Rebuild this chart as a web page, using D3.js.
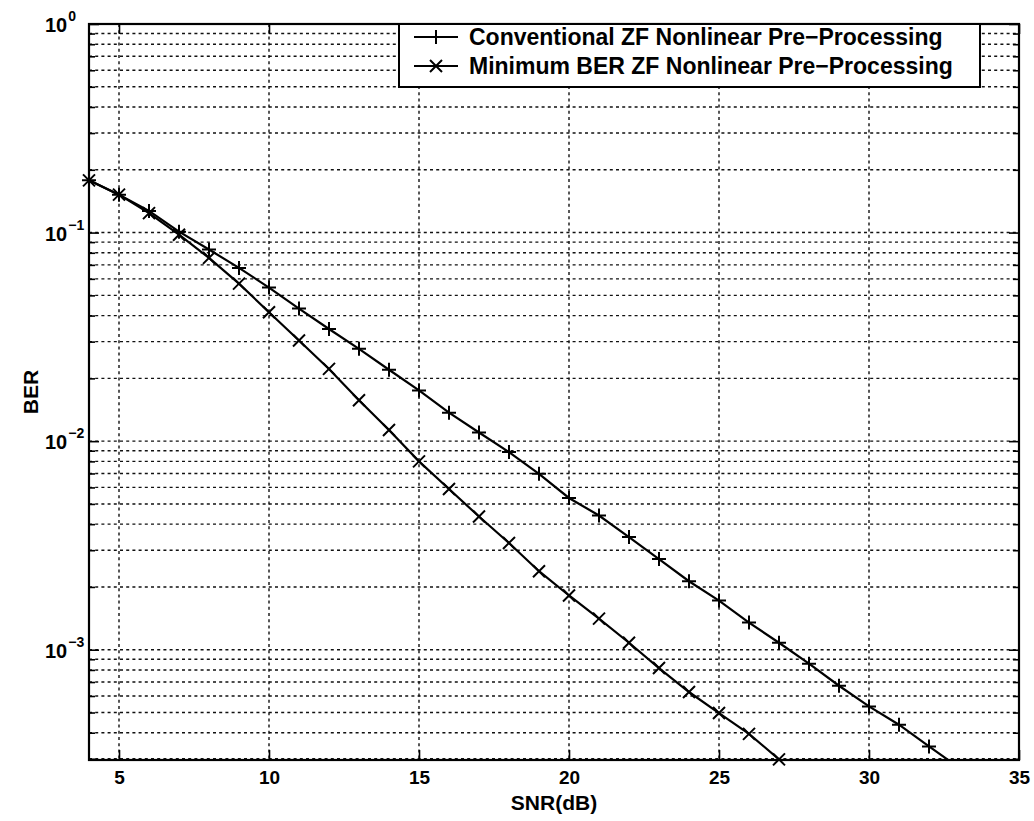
<!DOCTYPE html>
<html>
<head>
<meta charset="utf-8">
<script src="https://cdn.jsdelivr.net/npm/d3@7"></script>
<style>
  html, body { margin: 0; padding: 0; background: #fff; }
  svg { display: block; }
  text { font-family: "Liberation Sans", Arial, Helvetica, sans-serif; font-weight: bold; fill: #000; }
</style>
</head>
<body>
<svg id="chart" width="1034" height="821"></svg>
<script>
// SNR sweep (dB) for each curve
const snrConventional = [4, 5, 6, 7, 8, 9, 10, 11, 12, 13, 14, 15, 16, 17, 18, 19, 20, 21, 22, 23, 24, 25, 26, 27, 28, 29, 30, 31, 32, 33];
const berConventional = [0.178, 0.152, 0.127, 0.101, 0.0829, 0.0677, 0.0545, 0.0432, 0.0345, 0.0277, 0.0220, 0.0175, 0.0137, 0.0110, 0.00886, 0.00697, 0.00534, 0.00440, 0.00347, 0.00272, 0.00213, 0.00172, 0.00135, 0.00108, 0.000857, 0.000672, 0.000535, 0.000437, 0.000344, 0.000272];

const snrMinBer = [4, 5, 6, 7, 8, 9, 10, 11, 12, 13, 14, 15, 16, 17, 18, 19, 20, 21, 22, 23, 24, 25, 26, 27];
const berMinBer = [0.178, 0.152, 0.124, 0.0977, 0.0756, 0.0569, 0.0415, 0.0304, 0.0222, 0.0157, 0.0113, 0.0080, 0.0059, 0.00435, 0.00325, 0.00238, 0.00182, 0.00141, 0.00108, 0.000817, 0.000627, 0.000497, 0.000395, 0.000298];

const seriesNames = ["Conventional ZF Nonlinear Pre\u2212Processing", "Minimum BER ZF Nonlinear Pre\u2212Processing"];

const xTicks = [5, 10, 15, 20, 25, 30, 35];
const yDecades = [0, -1, -2, -3];
const xDomain = [4, 35];
const yDomain = [2.96e-4, 1];

const svg = d3.select("#chart");
const plot = { left: 89, right: 1019, top: 24, bottom: 760 };

const x = d3.scaleLinear().domain(xDomain).range([plot.left, plot.right]);
const y = d3.scaleLog().domain(yDomain).range([plot.bottom, plot.top]);

// minor log positions (1..9 x 10^k) inside the domain
const yGridVals = [];
for (let k = -4; k <= 0; k++) {
  for (let m = 1; m <= 9; m++) {
    const v = m * Math.pow(10, k);
    if (v >= yDomain[0] * 1.001 && v <= yDomain[1] * 1.0001) yGridVals.push(v);
  }
}
const yMajor = yDecades.map(e => Math.pow(10, e));

svg.append("defs").append("clipPath").attr("id", "plotClip")
  .append("rect")
  .attr("x", plot.left).attr("y", plot.top)
  .attr("width", plot.right - plot.left).attr("height", plot.bottom - plot.top);

// dotted grid
const grid = svg.append("g").attr("class", "grid")
  .attr("stroke", "#111").attr("stroke-width", 1.4).attr("stroke-dasharray", "3,3.2");
grid.selectAll("line.h").data(yGridVals.filter(v => v < 0.999)).join("line")
  .attr("class", "h")
  .attr("x1", plot.left).attr("x2", plot.right)
  .attr("y1", d => y(d)).attr("y2", d => y(d));
grid.selectAll("line.v").data(xTicks.filter(t => t > xDomain[0] && t < xDomain[1])).join("line")
  .attr("class", "v")
  .attr("y1", plot.top).attr("y2", plot.bottom)
  .attr("x1", d => x(d)).attr("x2", d => x(d));

// axes: ticks on all four sides, drawn inward
const tickMajor = 10, tickMinor = 6;
const axisBottom = d3.axisBottom(x).tickValues(xTicks).tickSize(-tickMajor).tickFormat(d3.format("d")).tickPadding(11);
const axisTop = d3.axisTop(x).tickValues(xTicks).tickSize(-tickMajor).tickFormat("");
const gB = svg.append("g").attr("transform", `translate(0,${plot.bottom})`).call(axisBottom);
svg.append("g").attr("transform", `translate(0,${plot.top})`).call(axisTop);

const minorVals = yGridVals.filter(v => !yMajor.some(M => Math.abs(M - v) / M < 1e-6));
svg.append("g").attr("transform", `translate(${plot.left},0)`)
  .call(d3.axisRight(y).tickValues(yMajor).tickSize(tickMajor).tickFormat(""));
svg.append("g").attr("transform", `translate(${plot.left},0)`)
  .call(d3.axisRight(y).tickValues(minorVals).tickSize(tickMinor).tickFormat(""));
svg.append("g").attr("transform", `translate(${plot.right},0)`)
  .call(d3.axisLeft(y).tickValues(yMajor).tickSize(tickMajor).tickFormat(""));
svg.append("g").attr("transform", `translate(${plot.right},0)`)
  .call(d3.axisLeft(y).tickValues(minorVals).tickSize(tickMinor).tickFormat(""));

svg.selectAll(".domain").remove();
svg.selectAll(".tick line").attr("stroke", "#000").attr("stroke-width", 1.6);
gB.selectAll(".tick text").attr("font-size", 19).attr("font-family", "Liberation Sans, Arial, sans-serif").attr("font-weight", "bold").attr("fill", "#000");

// frame
svg.append("rect")
  .attr("x", plot.left).attr("y", plot.top)
  .attr("width", plot.right - plot.left).attr("height", plot.bottom - plot.top)
  .attr("fill", "none").attr("stroke", "#000").attr("stroke-width", 2.2);

// y tick labels as 10^k
const yLab = svg.append("g");
yDecades.forEach(e => {
  const t = yLab.append("text")
    .attr("x", 45).attr("y", y(Math.pow(10, e)) + 8)
    .attr("font-size", 20);
  t.append("tspan").text("10");
  t.append("tspan").attr("font-size", 14).attr("dy", -11).attr("dx", 1)
    .text(e === 0 ? "0" : "\u2212" + Math.abs(e));
});

// axis titles
svg.append("text")
  .attr("x", (plot.left + plot.right) / 2).attr("y", 810)
  .attr("text-anchor", "middle").attr("font-size", 21)
  .text("SNR(dB)");
svg.append("text")
  .attr("transform", `translate(38,${(plot.top + plot.bottom) / 2}) rotate(-90)`)
  .attr("text-anchor", "middle").attr("font-size", 21)
  .text("BER");

// curves
const line = d3.line().x(d => x(d[0])).y(d => y(d[1]));
const convPts = snrConventional.map((s, i) => [s, berConventional[i]]);
const minPts = snrMinBer.map((s, i) => [s, berMinBer[i]]);

const curves = svg.append("g").attr("clip-path", "url(#plotClip)");
curves.append("path").datum(convPts).attr("d", line)
  .attr("fill", "none").attr("stroke", "#000").attr("stroke-width", 2.2);
curves.append("path").datum(minPts).attr("d", line)
  .attr("fill", "none").attr("stroke", "#000").attr("stroke-width", 2.2);

const inDomain = d => d[0] >= xDomain[0] && d[0] <= xDomain[1] && d[1] >= yDomain[0] * 0.995 && d[1] <= yDomain[1];

function plusMarker(g, cx, cy, r) {
  g.append("path")
    .attr("d", `M${cx - r},${cy}H${cx + r}M${cx},${cy - r}V${cy + r}`)
    .attr("stroke", "#000").attr("stroke-width", 2).attr("fill", "none");
}
function crossMarker(g, cx, cy, r) {
  g.append("path")
    .attr("d", `M${cx - r},${cy - r}L${cx + r},${cy + r}M${cx - r},${cy + r}L${cx + r},${cy - r}`)
    .attr("stroke", "#000").attr("stroke-width", 2).attr("fill", "none");
}

const markers = svg.append("g");
convPts.filter(inDomain).forEach(d => plusMarker(markers, x(d[0]), y(d[1]), 7));
minPts.filter(inDomain).forEach(d => crossMarker(markers, x(d[0]), y(d[1]), 6));

// legend
const leg = { x0: 399, y0: 24, x1: 980, y1: 87 };
const lg = svg.append("g");
lg.append("rect")
  .attr("x", leg.x0).attr("y", leg.y0)
  .attr("width", leg.x1 - leg.x0).attr("height", leg.y1 - leg.y0)
  .attr("fill", "#fff").attr("stroke", "#000").attr("stroke-width", 2);
const rows = [leg.y0 + 13, leg.y0 + 42];
rows.forEach((ry, i) => {
  lg.append("line").attr("x1", 414).attr("x2", 458).attr("y1", ry).attr("y2", ry)
    .attr("stroke", "#000").attr("stroke-width", 2.2);
  if (i === 0) plusMarker(lg, 436, ry, 7); else crossMarker(lg, 436, ry, 6);
  lg.append("text").attr("x", 469).attr("y", ry + 8).attr("font-size", 23)
    .text(seriesNames[i]);
});
</script>
</body>
</html>
